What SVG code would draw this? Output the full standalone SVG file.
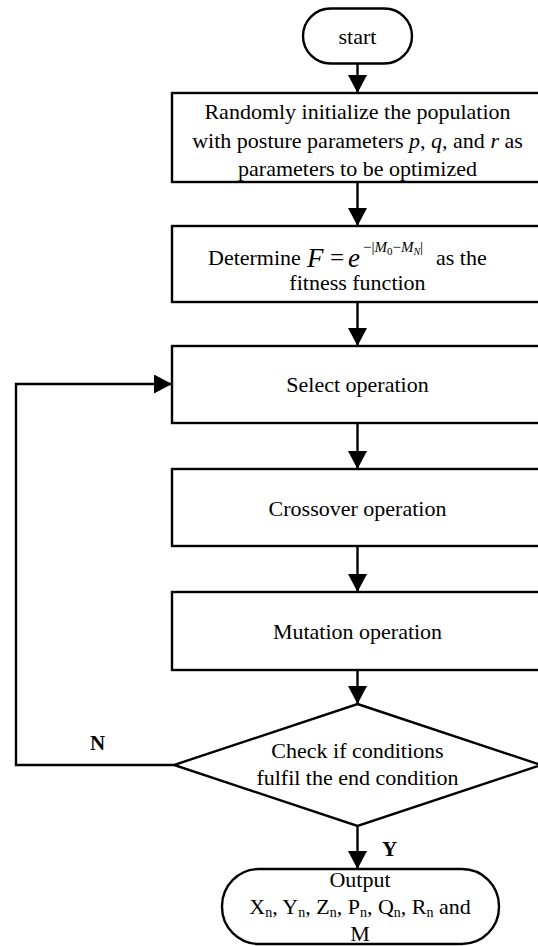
<svg xmlns="http://www.w3.org/2000/svg" width="538" height="946" viewBox="0 0 538 946">
<style>
.b{fill:#fff;stroke:#000;stroke-width:2.4}
.t{font-family:"Liberation Serif","Times New Roman",serif;font-size:22px;fill:#000;text-anchor:middle}
.s{font-family:"Liberation Serif","Times New Roman",serif;font-size:22px;fill:#000}
.i{font-style:italic}
.c{fill:none;stroke:#000;stroke-width:2.4}
.lb{font-family:"Liberation Serif","Times New Roman",serif;font-size:21px;font-weight:bold;fill:#000}
</style>
<defs>
<marker id="ah" viewBox="0 0 18 19" refX="18" refY="9.5" markerWidth="18" markerHeight="19" markerUnits="userSpaceOnUse" orient="auto">
<path d="M0,0 L18,9.5 L0,19 z" fill="#000"/>
</marker>
</defs>
<g id="connectors">
<line class="c" x1="357.5" y1="63" x2="357.5" y2="93" marker-end="url(#ah)"/>
<line class="c" x1="357.5" y1="182" x2="357.5" y2="226" marker-end="url(#ah)"/>
<line class="c" x1="357.5" y1="302" x2="357.5" y2="346" marker-end="url(#ah)"/>
<line class="c" x1="357.5" y1="423" x2="357.5" y2="469" marker-end="url(#ah)"/>
<line class="c" x1="357.5" y1="546" x2="357.5" y2="592" marker-end="url(#ah)"/>
<line class="c" x1="357.5" y1="670" x2="357.5" y2="704" marker-end="url(#ah)"/>
<line class="c" x1="357.5" y1="826" x2="357.5" y2="869" marker-end="url(#ah)"/>
<polyline class="c" points="174,765 16,765 16,384 172,384" marker-end="url(#ah)"/>
<text class="lb" x="90" y="750">N</text>
<text class="lb" x="382" y="856">Y</text>
</g>
<g id="start">
<rect class="b" x="303" y="8.5" width="109" height="55" rx="27.5"/>
<text class="t" x="357.5" y="44">start</text>
</g>
<g id="init">
<rect class="b" x="172" y="93" width="372" height="89"/>
<text class="t" x="357.5" y="119">Randomly initialize the population</text>
<text class="t" x="357.5" y="148">with posture parameters <tspan class="i">p</tspan>, <tspan class="i">q</tspan>, and <tspan class="i">r</tspan> as</text>
<text class="t" x="357.5" y="176">parameters to be optimized</text>
</g>
<g id="fitness">
<rect class="b" x="172" y="226" width="372" height="76"/>
<text class="s" x="208" y="265">Determine<tspan x="307" dy="2" font-size="27" font-style="italic">F</tspan><tspan x="330" dy="-1" font-size="25">=</tspan><tspan x="348" dy="1" font-size="27" font-style="italic">e</tspan><tspan x="363" dy="-15" font-size="15">−|</tspan><tspan font-size="15" font-style="italic">M</tspan><tspan font-size="11" dy="3">0</tspan><tspan font-size="15" dy="-3">−</tspan><tspan font-size="15" font-style="italic">M</tspan><tspan font-size="10" font-style="italic" dy="3">N</tspan><tspan font-size="15" dy="-3">|</tspan><tspan x="436" dy="13">as the</tspan></text>
<text class="t" x="357.5" y="290">fitness function</text>
</g>
<g id="select">
<rect class="b" x="172" y="346" width="372" height="77"/>
<text class="t" x="357.5" y="392">Select operation</text>
</g>
<g id="crossover">
<rect class="b" x="172" y="469" width="372" height="77"/>
<text class="t" x="357.5" y="516">Crossover operation</text>
</g>
<g id="mutation">
<rect class="b" x="172" y="592" width="372" height="78"/>
<text class="t" x="357.5" y="639">Mutation operation</text>
</g>
<g id="check">
<polygon class="b" points="357.5,704 541,765 357.5,826 174,765"/>
<text class="t" x="357.5" y="758">Check if conditions</text>
<text class="t" x="357.5" y="785">fulfil the end condition</text>
</g>
<g id="output">
<rect class="b" x="222" y="869" width="277" height="75" rx="37"/>
<text class="t" x="360" y="887">Output</text>
<text class="t" x="360" y="914">X<tspan font-size="14" dy="3">n</tspan><tspan dy="-3">, Y</tspan><tspan font-size="14" dy="3">n</tspan><tspan dy="-3">, Z</tspan><tspan font-size="14" dy="3">n</tspan><tspan dy="-3">, P</tspan><tspan font-size="14" dy="3">n</tspan><tspan dy="-3">, Q</tspan><tspan font-size="14" dy="3">n</tspan><tspan dy="-3">, R</tspan><tspan font-size="14" dy="3">n</tspan><tspan dy="-3"> and</tspan></text>
<text class="t" x="360" y="941">M</text>
</g>
</svg>
